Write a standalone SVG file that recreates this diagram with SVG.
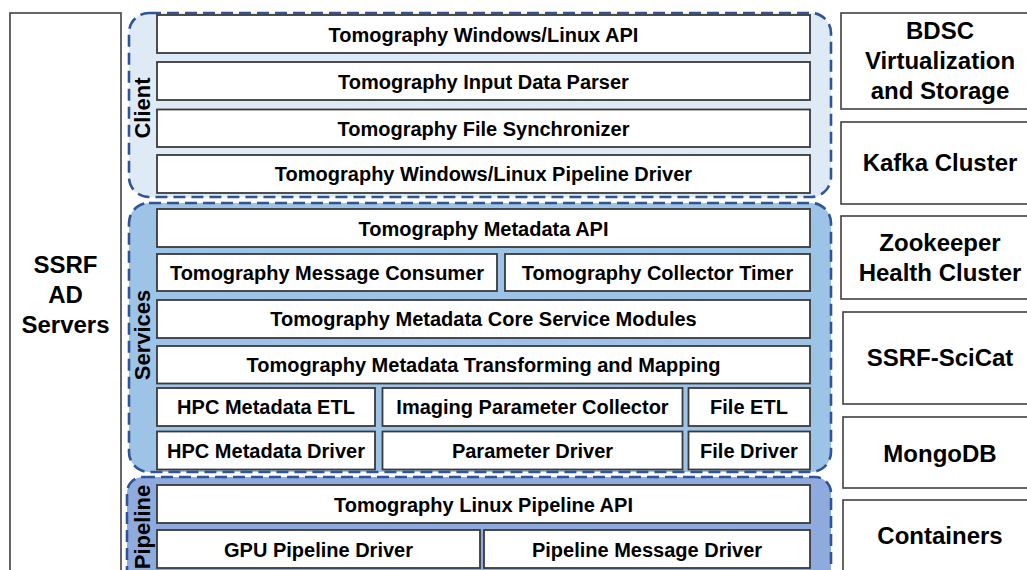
<svg xmlns="http://www.w3.org/2000/svg" width="1027" height="570" viewBox="0 0 1027 570">
<style>
text{font-family:"Liberation Sans",Arial,sans-serif;font-weight:bold;fill:#000;text-anchor:middle}
.t{font-size:20px}
.big{font-size:24px}
.lbl{font-size:22px}
.box{fill:#fff;stroke:#3a3a3a;stroke-width:1.8}
.side{fill:#fff;stroke:#404040;stroke-width:1.6}
.grp{stroke:#2F5597;stroke-width:2.6;stroke-dasharray:12 6}
</style>
<rect width="1027" height="570" fill="#fff"/>
<g id="ssrf-ad-servers">
<rect class="side" x="10" y="13" width="111" height="580"/>
<text class="big" x="65.5" y="273">SSRF</text>
<text class="big" x="65.5" y="303">AD</text>
<text class="big" x="65.5" y="333">Servers</text>
</g>
<g id="client-layer">
<rect class="grp" x="129" y="13" width="702" height="184" rx="20" fill="#DEEBF7"/>
<text class="lbl" transform="translate(150,108) rotate(-90)">Client</text>
</g>
<g id="services-layer">
<rect class="grp" x="129" y="203" width="702" height="269" rx="20" fill="#9DC3E6"/>
<text class="lbl" transform="translate(150,335) rotate(-90)">Services</text>
</g>
<g id="pipeline-layer">
<rect class="grp" x="127" y="477" width="704" height="130" rx="16" fill="#8FAADC"/>
<text class="lbl" transform="translate(150,527) rotate(-90)">Pipeline</text>
</g>
<g id="n-win-api"><rect class="box" x="157" y="15" width="653" height="38"/><text class="t" x="483.5" y="42">Tomography Windows/Linux API</text></g>
<g id="n-parser"><rect class="box" x="157" y="62" width="653" height="38"/><text class="t" x="483.5" y="89">Tomography Input Data Parser</text></g>
<g id="n-sync"><rect class="box" x="157" y="109.5" width="653" height="37.5"/><text class="t" x="483.5" y="136">Tomography File Synchronizer</text></g>
<g id="n-win-driver"><rect class="box" x="157" y="155" width="653" height="38"/><text class="t" x="483.5" y="181">Tomography Windows/Linux Pipeline Driver</text></g>
<g id="n-meta-api"><rect class="box" x="157" y="209" width="653" height="38"/><text class="t" x="483.5" y="236">Tomography Metadata API</text></g>
<g id="n-consumer"><rect class="box" x="157" y="254" width="340" height="37"/><text class="t" x="327" y="280">Tomography Message Consumer</text></g>
<g id="n-timer"><rect class="box" x="505" y="254" width="305" height="37"/><text class="t" x="657.5" y="280">Tomography Collector Timer</text></g>
<g id="n-core"><rect class="box" x="157" y="300" width="653" height="38"/><text class="t" x="483.5" y="326">Tomography Metadata Core Service Modules</text></g>
<g id="n-transform"><rect class="box" x="157" y="346" width="653" height="37.5"/><text class="t" x="483.5" y="372">Tomography Metadata Transforming and Mapping</text></g>
<g id="n-hpc-etl"><rect class="box" x="157" y="388" width="218" height="38"/><text class="t" x="266" y="414">HPC Metadata ETL</text></g>
<g id="n-imaging"><rect class="box" x="382.5" y="388" width="300" height="38"/><text class="t" x="532.5" y="414">Imaging Parameter Collector</text></g>
<g id="n-file-etl"><rect class="box" x="688.5" y="388" width="121.5" height="38"/><text class="t" x="749" y="414">File ETL</text></g>
<g id="n-hpc-driver"><rect class="box" x="157" y="431.5" width="218" height="38"/><text class="t" x="266" y="458">HPC Metadata Driver</text></g>
<g id="n-param-driver"><rect class="box" x="382.5" y="431.5" width="300" height="38"/><text class="t" x="532.5" y="458">Parameter Driver</text></g>
<g id="n-file-driver"><rect class="box" x="688.5" y="431.5" width="121.5" height="38"/><text class="t" x="749" y="458">File Driver</text></g>
<g id="n-linux-api"><rect class="box" x="157" y="485" width="653" height="38"/><text class="t" x="483.5" y="512">Tomography Linux Pipeline API</text></g>
<g id="n-gpu-driver"><rect class="box" x="157" y="530" width="323" height="38"/><text class="t" x="318.5" y="557">GPU Pipeline Driver</text></g>
<g id="n-msg-driver"><rect class="box" x="484" y="530" width="326" height="38"/><text class="t" x="647" y="557">Pipeline Message Driver</text></g>
<g id="n-bdsc"><rect class="side" x="841" y="13" width="200" height="96"/><text class="big" x="940" y="39">BDSC</text><text class="big" x="940" y="69">Virtualization</text><text class="big" x="940" y="99">and Storage</text></g>
<g id="n-kafka"><rect class="side" x="841" y="122" width="200" height="82"/><text class="big" x="940" y="171">Kafka Cluster</text></g>
<g id="n-zookeeper"><rect class="side" x="841" y="216" width="200" height="83"/><text class="big" x="940" y="251">Zookeeper</text><text class="big" x="940" y="281">Health Cluster</text></g>
<g id="n-scicat"><rect class="side" x="843" y="312" width="200" height="92"/><text class="big" x="940" y="366">SSRF-SciCat</text></g>
<g id="n-mongodb"><rect class="side" x="843" y="417" width="200" height="71"/><text class="big" x="940" y="462">MongoDB</text></g>
<g id="n-containers"><rect class="side" x="843" y="500" width="200" height="90"/><text class="big" x="940" y="544">Containers</text></g>
<g id="connectors"></g>
</svg>
